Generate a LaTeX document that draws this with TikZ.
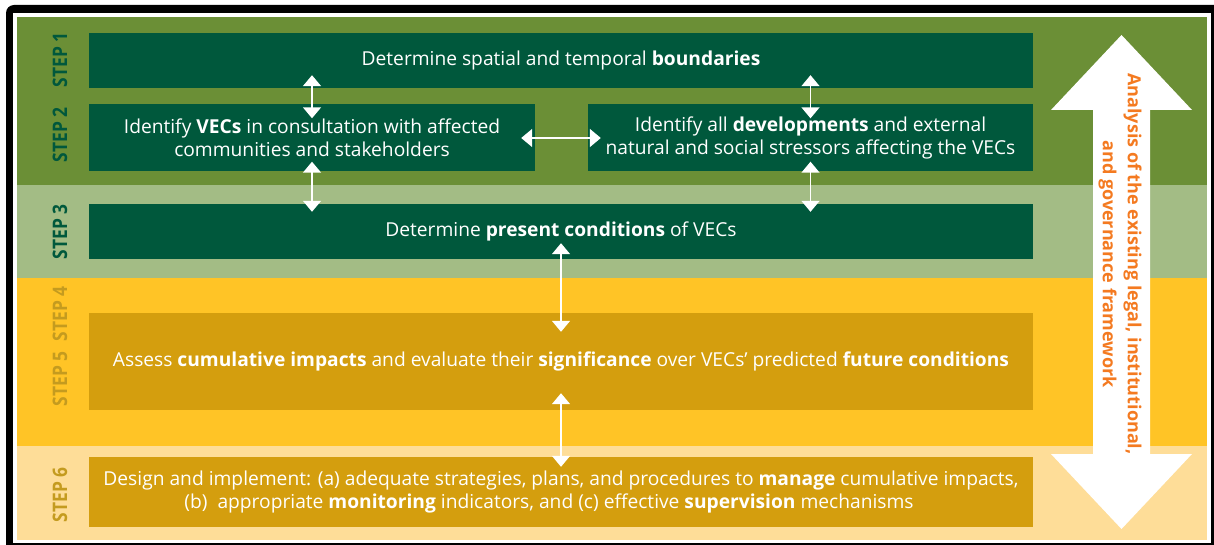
\documentclass[tikz,border=0pt]{standalone}
\usepackage{fontspec}
\setmainfont{Open Sans}
\usetikzlibrary{arrows.meta,positioning}
\definecolor{bandgreen}{HTML}{6B8F36}
\definecolor{bandpale}{HTML}{A3BC85}
\definecolor{bandyellow}{HTML}{FFC426}
\definecolor{bandcream}{HTML}{FEDD98}
\definecolor{boxgreen}{HTML}{00583C}
\definecolor{boxgold}{HTML}{D49E0E}
\definecolor{labelgold}{HTML}{C49B1F}
\definecolor{laworange}{HTML}{F47A20}
\tikzset{
  stepbox/.style={rectangle, inner sep=0pt, text=white, align=center, font=\fontsize{19.2}{23}\selectfont},
  steplabel/.style={rotate=90, inner sep=0pt, font=\bfseries\fontsize{20}{20}\selectfont},
  link/.style={draw=white, line width=1.5pt, {Triangle[width=18pt,length=11pt]}-{Triangle[width=18pt,length=11pt]}}
}
\begin{document}
\begin{tikzpicture}[x=1pt,y=-1pt]
\useasboundingbox (0,0) rectangle (1214,545);
\fill [black, rounded corners=8pt] (6,5) rectangle (1222,553);
\fill [white] (13,13) rectangle (1211,543);
\foreach \t/\b/\col in {17/185/bandgreen,185/278/bandpale,278/446/bandyellow,446/540/bandcream}
  \fill [\col] (17,\t) rectangle (1207,\b);
\fill [white] (1121.5,35) -- (1192,110) -- (1150,110) -- (1150,454) -- (1192,454) -- (1121.5,529)
  -- (1051,454) -- (1093,454) -- (1093,110) -- (1051,110) -- cycle;
\node [rotate=-90, align=center, inner sep=0pt, text=laworange, font=\bfseries\fontsize{18}{25}\selectfont] (law) at (1120,264)
  {Analysis of the existing legal, institutional,\\and governance framework};
\foreach \n/\y/\col in {1/60/boxgreen,2/135/boxgreen,3/232/boxgreen,4/314/labelgold,5/379/labelgold,6/495/labelgold}
  \node [steplabel, text=\col] (s\n) at (60,\y) {\scalebox{0.87}[1]{STEP \n}};
\node [stepbox, fill=boxgreen, minimum width=944pt, minimum height=55pt] (bound) at (561,60.5)
  {Determine spatial and temporal \textbf{boundaries}};
\node [stepbox, fill=boxgreen, minimum width=446pt, minimum height=67pt] (vecs) at (312,138)
  {Identify \textbf{VECs} in consultation with affected\\communities and stakeholders};
\node [stepbox, fill=boxgreen, minimum width=445pt, minimum height=67pt] (devs) at (810.5,138)
  {Identify all \textbf{developments} and external\\natural and social stressors affecting the VECs};
\node [stepbox, fill=boxgreen, minimum width=944pt, minimum height=55pt] (present) at (561,231.5)
  {Determine \textbf{present conditions} of VECs};
\node [stepbox, fill=boxgold, minimum width=944pt, minimum height=97pt] (assess) at (561,361.5)
  {Assess \textbf{cumulative impacts} and evaluate their \textbf{significance} over VECs’ predicted \textbf{future conditions}};
\node [stepbox, fill=boxgold, minimum width=944pt, minimum height=70pt] (manage) at (561,492)
  {Design and implement: (a) adequate strategies, plans, and procedures to \textbf{manage} cumulative impacts,\\
   (b)\ \ appropriate \textbf{monitoring} indicators, and (c) effective \textbf{supervision} mechanisms\hspace*{24pt}};
\draw [link, shorten <=-13pt, shorten >=-14pt] (bound.south -| vecs) -- (vecs.north);
\draw [link, shorten <=-13pt, shorten >=-14pt] (bound.south -| devs) -- (devs.north);
\draw [link, shorten <=-14pt, shorten >=-13pt] (vecs.east) -- (devs.west);
\draw [link, shorten <=-10pt, shorten >=-8pt] (vecs.south) -- (present.north -| vecs);
\draw [link, shorten <=-10pt, shorten >=-8pt] (devs.south) -- (present.north -| devs);
\draw [link, shorten <=-16pt, shorten >=-19pt] (present.south) -- (assess.north);
\draw [link, shorten <=-17pt, shorten >=-10pt] (assess.south) -- (manage.north);
\end{tikzpicture}
\end{document}
